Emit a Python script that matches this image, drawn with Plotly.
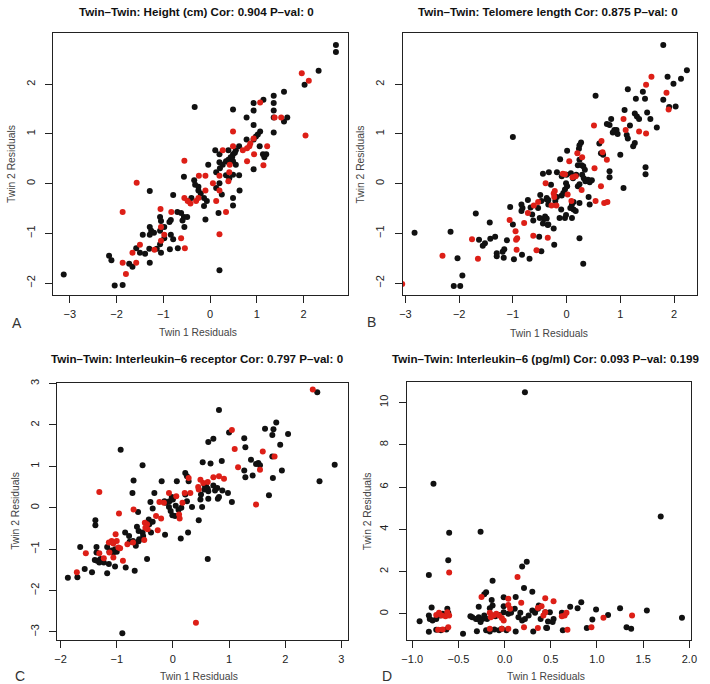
import plotly.graph_objects as go

# ---------------- DATA ----------------
titles = [
    "Twin–Twin: Height (cm) Cor: 0.904 P–val: 0",
    "Twin–Twin: Telomere length Cor: 0.875 P–val: 0",
    "Twin–Twin: Interleukin–6 receptor Cor: 0.797 P–val: 0",
    "Twin–Twin: Interleukin–6 (pg/ml) Cor: 0.093 P–val: 0.199",
]
panel_letters = ["A", "B", "C", "D"]
x_label = "Twin 1 Residuals"
y_label = "Twin 2 Residuals"

# Panel A: Height
a_black_x = [-0.33, -0.56, -1.29, -0.79, -0.34, -0.32, -0.25, -0.25, -0.20, -0.40, -0.45, -0.70, -0.62, -0.56,
             -0.59, -0.49, -0.55, -0.84, -0.87, -1.07, -1.05, -0.98, -1.07, -1.29, -1.26, -1.29, -1.44, -1.20,
             -0.98, -0.79, -0.84, -1.58, -1.50, -1.39, -1.30, -1.14, -1.05, -0.86, -0.69, -1.29, -1.73, -1.66,
             -2.16, -2.11, -2.04, -1.87, -3.13, -1.07,
             2.69, 2.69, 2.32, 2.02, 1.58, 1.36, 1.36, 1.36, 1.36, 1.36, 1.65, 1.58, 1.14, 0.93, 0.93, 0.93,
             0.49, 0.78, 1.07, 1.02, 0.98, 0.93, 0.78, 0.93, 1.06, 1.13, 1.20, 1.16, 0.62, 0.55, 0.49, 0.44,
             0.39, 0.11, 0.20, 0.34, 0.41, 0.49, 0.55, 0.47, 0.62, 0.63, 0.20, 0.27, 0.21, 0.13, -0.04, 0.34,
             0.41, 0.49, 0.20, 0.13, 0.25, -0.13, -0.07, -0.13, 0.49, 0.49, 0.18, -0.10, 0.20, 0.39, 0.53]
a_black_y = [1.54, 0.14, -0.15, -0.23, 0.07, -0.02, -0.06, -0.14, -0.20, -0.29, -0.35, -0.57, -0.59, -0.67,
             -0.74, -0.67, -0.87, -0.73, -0.77, -0.67, -0.75, -0.87, -0.95, -0.87, -0.95, -1.03, -1.03, -0.99,
             -1.10, -1.12, -1.03, -1.30, -1.39, -1.41, -1.31, -1.31, -1.39, -1.32, -1.30, -1.59, -1.61, -1.67,
             -1.45, -1.54, -2.05, -2.04, -1.83, -1.22,
             2.79, 2.65, 2.27, 1.99, 1.85, 1.77, 1.62, 1.47, 1.33, 1.03, 1.33, 1.25, 1.69, 1.62, 1.47, 1.18,
             1.49, 1.33, 1.05, 0.99, 0.95, 0.89, 0.89, 0.29, 0.75, 0.59, 0.59, 0.53, 0.75, 0.67, 0.59, 0.53,
             0.48, 0.67, 0.59, 0.45, 0.41, 0.45, 0.38, 0.53, 0.17, -0.14, 0.43, 0.38, 0.31, 0.23, 0.38, 0.17,
             0.11, 0.18, 0.01, -0.09, -0.22, -0.29, -0.35, -0.45, -0.29, -0.44, -0.59, -0.72, -1.74, 0.67, 0.62]
a_red_x = [-0.55, -1.57, -1.87, -0.55, -0.48, -0.42, -0.83, -1.06, -0.98, -1.05, -1.19, -0.62, -0.54, -1.50,
           -1.66, -1.87, -1.58, -1.80, -0.30, -1.05,
           1.96, 2.11, 2.04, 1.07, 1.38, 1.52, 0.49, 0.49, 0.86, 0.93, 0.84, 0.70, 0.79, 0.94, 1.22, 0.79,
           1.14, 0.27, 0.42, 0.41, 0.39, -0.24, -0.10, 0.06, 0.20, 0.20, -0.10, -0.25, 0.13, 0.34, 0.20]
a_red_y = [0.46, 0.02, -0.57, -0.29, -0.35, -0.40, -0.57, -0.51, -1.03, -1.15, -1.33, -1.10, -1.30, -1.23,
           -1.39, -1.59, -1.59, -1.82, -0.35, -0.87,
           2.22, 2.07, 0.97, 1.63, 1.33, 1.33, 1.05, 0.75, 0.81, 0.91, 0.75, 0.67, 0.71, 0.59, 0.75, 0.45,
           0.37, 0.67, 0.38, 0.23, 0.05, 0.16, 0.16, 0.01, 0.16, -0.14, -0.14, -0.29, -0.35, -0.57, -1.02]

# Panel B: Telomere length
b_black_x = [-1.00, -2.83, -2.16, -2.03, -1.94, -2.10, -1.98, -1.69, -1.43, -1.63, -1.52, -1.56, -1.42, -1.33,
             -1.11, -1.16, -1.19, -1.30, -1.30, -1.17, -0.98, -1.05, -1.00, -0.84, -0.84, -0.82, -0.72, -0.64,
             -0.62, -0.67, -0.83, -0.69, -0.51, -0.47, -0.44, -0.33, -0.29, -0.49, -0.47, -0.42, -0.35, -0.53,
             -0.50, -0.37, -0.34, -0.44, -0.40,
             1.80, 2.24, 2.13, 1.88, 1.99, 1.14, 1.42, 1.29, 1.46, 1.80, 2.03, 1.91, 0.54, 1.08, 1.50, 1.27,
             1.31, 1.35, 1.56, 0.83, 0.80, 0.75, 1.68, 1.18, 0.89, 0.93, 0.95, 0.86, 0.27, 0.24, 0.23, 0.01,
             -0.12, 1.12, 1.14, 1.27, 1.24, 1.00, 0.61, 0.64, 0.68, 0.24, 0.21, 0.28, 1.47, 1.47, 0.80, 0.80,
             1.06, -0.18, -0.09, 0.00, 0.08, 0.12, 0.18, 0.31, 0.34, 0.40, 0.43, 0.35, 0.47, 0.29, 0.32, 0.24,
             0.21, -0.01, 0.01, -0.03, -0.06, -0.09, -0.18, -0.21, -0.37, -0.34, 0.41, 0.43, 0.24, 0.13, 0.10,
             0.07, 0.13, 0.17, -0.10, -0.13, -0.03, -0.01, 0.10, -0.37, -0.34, -0.24, -0.23, 0.24, 0.31]
b_black_y = [0.94, -0.99, -0.97, -1.50, -1.85, -2.06, -2.06, -0.60, -0.78, -1.13, -1.20, -1.25, -1.11, -1.07,
             -1.14, -1.32, -1.37, -1.40, -1.46, -1.49, -1.52, -0.47, -0.82, -0.42, -0.55, -0.49, -0.33, -0.62,
             -0.74, -0.48, -1.43, -1.51, -1.07, -1.36, 0.20, 0.23, -0.02, -0.23, -0.35, -0.71, -0.83, -0.49,
             -0.69, -0.32, -0.42, -0.80, -0.66,
             2.79, 2.28, 2.11, 2.15, 2.01, 1.90, 1.85, 1.71, 1.71, 1.69, 1.55, 1.54, 1.77, 1.48, 1.43, 1.41,
             1.35, 1.30, 1.30, 1.30, 1.18, 1.20, 1.13, 1.17, 1.08, 1.08, 1.00, 1.03, 0.83, 0.77, 0.70, 0.66,
             0.49, 0.98, 0.91, 0.82, 0.75, 0.58, 0.81, 0.61, 0.58, 0.48, 0.37, 0.37, 0.33, 0.19, 0.25, 0.13,
             -0.09, 0.23, 0.15, 0.18, 0.21, 0.11, 0.18, 0.35, 0.28, 0.08, 0.03, 0.05, 0.07, 0.18, 0.11, -0.01,
             -0.05, 0.01, -0.05, -0.12, -0.19, -0.24, -0.27, -0.35, -0.29, -0.33, -0.27, -0.42, -0.39, -0.37,
             -0.42, -0.49, -0.52, -0.55, -0.52, -0.69, -0.69, -0.63, -0.69, -0.70, -0.82, -0.90, -1.23, -1.10,
             -1.61]
b_red_x = [-2.31, -1.76, -1.65, -3.06, -1.06, -0.95, -0.92, -0.94, -0.93, -0.79, -0.62, -0.56, -0.39, -0.35,
           -0.72, -0.61, -0.53,
           1.58, 1.48, 1.86, 1.90, 1.06, 1.10, 0.51, 1.35, 1.48, 0.65, 0.67, 0.75, 0.20, 0.29, 0.05, 0.52,
           0.64, 0.54, 0.70, 0.76, 0.11, 0.17, -0.07, -0.03, 0.02, 0.09, -0.19, -0.28, -0.24, -0.22, -0.23,
           0.28]
b_red_y = [-1.45, -1.12, -1.51, -2.02, -0.73, -0.96, -1.10, -1.13, -1.33, -0.79, -1.05, -1.34, 0.01, -1.09,
           -0.59, -0.44, -0.37,
           2.15, 1.99, 1.83, 1.49, 1.30, 1.08, 1.17, 1.05, 1.01, 0.86, 0.63, 0.48, 0.61, 0.53, 0.45, 0.31,
           -0.05, -0.35, -0.39, -0.37, 0.13, 0.15, 0.20, 0.19, -0.22, -0.35, -0.44, -0.44, -0.20, -0.15, -0.27,
           -0.13]

# Panel C: Interleukin-6 receptor
c_black_x = [-0.93, -0.54, -0.70, -0.72, -1.38, -1.38, -1.65, -1.36, -1.36, -1.39, -1.35, -1.29, -1.17, -1.13,
             -1.09, -1.06, -1.03, -1.00, -0.85, -0.78, -0.71, -0.77, -0.66, -0.61, -0.46, -0.68, -0.84, -1.03,
             -1.17, -1.44, -1.57, -1.70, -1.87, -1.31, -1.23, -1.14, -0.90, -0.64, -0.61, -0.54, -0.53, -0.60,
             -0.43, -0.42, -0.36, -0.40, -0.36, -0.33, -0.20, -0.15, -0.13, -0.06, -0.02, 0.00, -0.07, -0.04,
             -0.01, 0.04, 0.07, 0.22, 0.25, 0.28, 0.22, 0.25, 0.34, 0.46, 0.27, 0.14, -0.14, -0.39, 0.53, 0.50,
             0.49, 0.59, 0.56, -0.62, 0.05, 0.10, 0.15,
             2.57, 2.88, 2.61, 0.82, 1.00, 0.63, 0.72, 1.27, 1.29, 1.64, 1.79, 1.84, 1.77, 2.05, 1.91, 1.77,
             1.39, 1.48, 1.52, 1.55, 1.27, 1.29, 1.42, 1.78, 1.94, 1.71, 0.67, 0.87, 0.56, 0.63, 0.62, 0.72,
             0.75, 0.79, 0.88, 0.98, 1.05, 0.80, 0.82, 0.63, 0.52, 0.62]
c_black_y = [1.40, 1.03, 0.66, 0.36, -0.30, -0.42, -0.95, -0.95, -1.08, -1.26, -1.28, -1.24, -0.95, -1.06,
             -1.03, -1.08, -1.00, -1.06, -0.60, -0.68, -0.80, -0.82, -0.92, -0.81, -1.24, -1.52, -1.44, -1.42,
             -1.58, -1.56, -1.48, -1.68, -1.69, -1.32, -1.32, -1.36, -3.03, -0.46, -0.56, -0.60, -0.68, -0.76,
             -0.28, -0.40, -0.34, 0.14, -0.02, 0.36, 0.64, 0.16, 0.12, 0.16, 0.26, 0.20, 0.02, -0.08, -0.18,
             -0.20, 0.64, 0.84, 0.76, 0.64, 0.32, 0.16, 0.02, -0.30, -0.60, -0.74, -0.65, -0.60, 1.10, 0.32,
             0.20, 0.52, 0.44, -0.10, 0.05, -0.05, 0.00,
             2.79, 1.04, 0.64, 2.36, 1.82, 1.59, 1.67, 1.68, 1.46, 1.91, 1.90, 2.06, 1.76, 1.78, 1.52, 1.24,
             1.16, 1.06, 1.08, 1.03, 0.90, 0.74, 0.78, 0.72, 0.90, 0.30, 1.07, 1.13, 0.56, 0.40, 0.46, 0.54,
             0.42, 0.48, 0.42, 0.36, 0.14, 0.22, 0.26, 0.22, 0.02, -1.24]
c_red_x = [-1.31, -0.96, -0.70, -1.71, -1.55, -1.31, -1.23, -1.02, -1.00, -1.09, -1.14, -1.06, -0.97, -0.94,
           -1.13, -1.06, -0.89, -0.81, -0.71, -0.50, -0.46, -0.45, -0.49, -0.51, -0.27, -0.30, -0.21, -0.24,
           -0.16, -0.07, 0.06, 0.17, 0.21, 0.31, 0.46, 0.49, 0.54, 0.11, 0.12, 0.41, 0.28, 0.45,
           2.49, 1.05, 1.10, 1.16, 1.60, 1.81, 1.55, 1.48, 0.72, 0.82, 0.91, 0.62]
c_red_y = [0.38, -0.14, -0.04, -1.56, -1.10, -1.10, -1.22, -0.64, -0.80, -0.80, -0.84, -0.86, -0.96, -0.98,
           -1.08, -1.20, -1.28, -0.88, -0.84, -0.36, -0.40, -0.52, -0.48, -0.78, -0.54, -0.20, -0.26, 0.14,
           0.12, 0.36, 0.28, 0.12, 0.36, 0.36, 0.44, 0.68, 0.60, -0.16, -0.26, -2.78, 0.72, 0.50,
           2.86, 1.88, 1.42, 0.98, 1.36, 1.24, 0.92, 0.08, 0.74, 0.76, 0.70, 0.62]

# Panel D: Interleukin-6 (pg/ml)
d_black_x = [0.22, -0.77, -0.60, -0.26, -0.61, -0.82, 0.19, 0.24, -0.13, 0.21, 0.30, -0.20, -0.22, 0.12, -0.14,
             -0.13, -0.16, -0.01, -0.01, -0.28, -0.79, -0.92, -0.82, -0.81, -0.78, -0.74, -0.70, -0.67, -0.62,
             -0.61, -0.82, -0.74, -0.69, -0.63, -0.45, -0.37, -0.35, -0.31, -0.28, -0.24, -0.22, -0.19, -0.26,
             -0.29, -0.30, -0.20, -0.16, -0.11, -0.06, -0.03, 0.02, 0.12, -0.01, 0.04, 0.07, 0.11, 0.17, 0.15,
             0.19, 0.22, 0.26, 0.30, 0.33, 0.36, 0.37, 0.39, 0.44, 0.47, 0.49, 0.46, 0.31, -0.13, -0.10, -0.06,
             1.69, 1.54, 1.92, 1.25, 0.83, 0.71, 0.79, 0.99, 0.95, 1.12, 1.32, 1.37, 0.89, 0.62, 0.65, 0.53,
             0.52, 0.63, 0.45]
d_black_y = [10.49, 6.15, 3.84, 3.89, 2.53, 1.84, 2.24, 2.46, 1.57, 1.22, 1.05, 1.02, 0.93, 0.80, 0.66, 0.39,
             0.27, 0.78, 0.36, 0.33, 0.30, -0.35, -0.08, -0.24, -0.31, -0.24, -0.08, 0.00, 0.24, 0.05, -0.85,
             -0.75, -0.78, -0.74, -0.94, -0.11, -0.16, -0.24, -0.16, -0.24, -0.08, -0.24, -0.39, -0.24, -0.82,
             -0.78, -0.83, -0.74, -0.78, -0.71, -0.78, -0.83, 0.08, 0.00, 0.05, 0.24, 0.05, -0.16, -0.31, -0.24,
             -0.08, 0.16, 0.05, 0.24, 0.39, -0.24, 0.08, -0.36, 0.08, -0.67, -0.83, -0.08, -0.11, -0.05,
             4.60, 0.16, -0.19, 0.27, 0.55, 0.33, 0.27, 0.20, -0.27, -0.05, -0.63, -0.71, -0.67, 0.05, 0.00,
             -0.24, -0.39, -0.78, -0.66]
d_red_x = [-0.60, 0.14, -0.25, 0.18, 0.44, -0.74, -0.71, -0.68, -0.64, -0.62, -0.60, -0.72, -0.67, -0.61,
           -0.16, -0.15, -0.12, -0.09, -0.06, -0.03, -0.01, 0.04, 0.04, 0.06, -0.16, -0.03, 0.04, 0.36, 0.21,
           0.36, 0.40, 0.44, 0.42,
           0.53, 0.67, 0.65, 0.62, 1.07, 1.38, 0.94, 0.68]
d_red_y = [1.96, 1.74, 0.80, 0.52, 0.74, -0.05, 0.05, -0.08, -0.11, 0.08, -0.08, -0.75, -0.74, -0.63,
           0.05, -0.16, -0.08, 0.00, -0.08, -0.20, -0.31, 0.71, 0.42, 0.24, -0.71, -0.71, -0.71, -0.67, -0.64,
           0.28, 0.36, 0.08, -0.08,
           0.60, 0.05, -0.08, -0.11, -0.19, -0.08, -0.64, -0.75]

# tick values per panel
a_xticks = [-3, -2, -1, 0, 1, 2]
a_yticks = [-2, -1, 0, 1, 2]
b_xticks = [-3, -2, -1, 0, 1, 2]
b_yticks = [-2, -1, 0, 1, 2]
c_xticks = [-2, -1, 0, 1, 2, 3]
c_yticks = [-3, -2, -1, 0, 1, 2, 3]
d_xticks = [-1.0, -0.5, 0.0, 0.5, 1.0, 1.5, 2.0]
d_yticks = [0, 2, 4, 6, 8, 10]

# ---------------- LAYOUT / STYLE ----------------
W, H = 710, 684
BLACK = "#111111"
RED = "#dd1f17"
FONT = "Liberation Sans, Arial, Helvetica, sans-serif"

# plot boxes in pixels: (left, right, top, bottom), axis ranges
panels = [
    dict(box=(49, 348, 29, 293), xr=[-3.354, 2.94], yr=[-2.246, 3.034],
         bx=a_black_x, by=a_black_y, rx=a_red_x, ry=a_red_y, xt=a_xticks, yt=a_yticks, fmt=None,
         title_xy=(195, 8), xlab=(196, 330), ylab=(6, 161), letter=(12, 321)),
    dict(box=(404, 703, 29, 293), xr=[-3.05, 2.43], yr=[-2.246, 3.034],
         bx=b_black_x, by=b_black_y, rx=b_red_x, ry=b_red_y, xt=b_xticks, yt=b_yticks, fmt=None,
         title_xy=(552, 8), xlab=(553, 331), ylab=(361, 161), letter=(372, 320)),
    dict(box=(53, 348, 381, 640), xr=[-2.06, 3.11], yr=[-3.2, 3.02],
         bx=c_black_x, by=c_black_y, rx=c_red_x, ry=c_red_y, xt=c_xticks, yt=c_yticks, fmt=None,
         title_xy=(195, 357), xlab=(197, 676), ylab=(10, 510), letter=(15, 676)),
    dict(box=(408, 697, 380, 640), xr=[-1.06, 2.02], yr=[-1.25, 10.98],
         bx=d_black_x, by=d_black_y, rx=d_red_x, ry=d_red_y, xt=d_xticks, yt=d_yticks, fmt=".1f",
         title_xy=(549, 357), xlab=(550, 676), ylab=(368, 510), letter=(388, 676)),
]

fig = go.Figure()
layout = dict(width=W, height=H, margin=dict(l=0, r=0, t=0, b=0),
              paper_bgcolor="white", plot_bgcolor="white", showlegend=False,
              font=dict(family=FONT, color="#222222"))
annotations = []

for i, p in enumerate(panels):
    n = "" if i == 0 else str(i + 1)
    l, r, t, b = p["box"]
    xa = dict(domain=[l / W, r / W], range=p["xr"], showgrid=False, zeroline=False,
              showline=True, mirror=True, linecolor="#222222", linewidth=1,
              ticks="outside", ticklen=7, tickwidth=1, tickcolor="#222222",
              tickvals=p["xt"], tickfont=dict(size=11, color="#222222"),
              ticklabelstandoff=2, anchor="y" + n)
    if p["fmt"]:
        xa["tickformat"] = p["fmt"]
    ya = dict(domain=[1 - b / H, 1 - t / H], range=p["yr"], showgrid=False, zeroline=False,
              showline=True, mirror=True, linecolor="#222222", linewidth=1,
              ticks="outside", ticklen=7, tickwidth=1, tickcolor="#222222",
              tickvals=p["yt"], tickangle=-90, tickfont=dict(size=11, color="#222222"),
              ticklabelstandoff=6, anchor="x" + n)
    layout["xaxis" + n] = xa
    layout["yaxis" + n] = ya

    fig.add_trace(go.Scatter(x=p["bx"], y=p["by"], mode="markers", xaxis="x" + n, yaxis="y" + n,
                             marker=dict(size=6, color=BLACK, line=dict(width=0))))
    fig.add_trace(go.Scatter(x=p["rx"], y=p["ry"], mode="markers", xaxis="x" + n, yaxis="y" + n,
                             marker=dict(size=6, color=RED, line=dict(width=0))))

    tx, ty = p["title_xy"]
    annotations.append(dict(text="<b>" + titles[i] + "</b>", x=tx / W, y=1 - ty / H, xref="paper",
                            yref="paper", showarrow=False, xanchor="center", yanchor="middle",
                            font=dict(size=11.6, color="#111111")))
    lx, ly = p["xlab"]
    annotations.append(dict(text=x_label, x=lx / W, y=1 - ly / H, xref="paper", yref="paper",
                            showarrow=False, xanchor="center", yanchor="middle",
                            font=dict(size=10.3, color="#444444")))
    yx, yy = p["ylab"]
    annotations.append(dict(text=y_label, x=yx / W, y=1 - yy / H, xref="paper", yref="paper",
                            showarrow=False, xanchor="center", yanchor="middle", textangle=-90,
                            font=dict(size=10.3, color="#444444")))
    ex, ey = p["letter"]
    annotations.append(dict(text=panel_letters[i], x=ex / W, y=1 - ey / H, xref="paper", yref="paper",
                            showarrow=False, xanchor="center", yanchor="middle",
                            font=dict(size=14, color="#333333")))

layout["annotations"] = annotations
fig.update_layout(**layout)
fig.write_html("out.html", config={"displayModeBar": False},
               post_script="document.body.style.margin='0';document.body.style.overflow='hidden';")
